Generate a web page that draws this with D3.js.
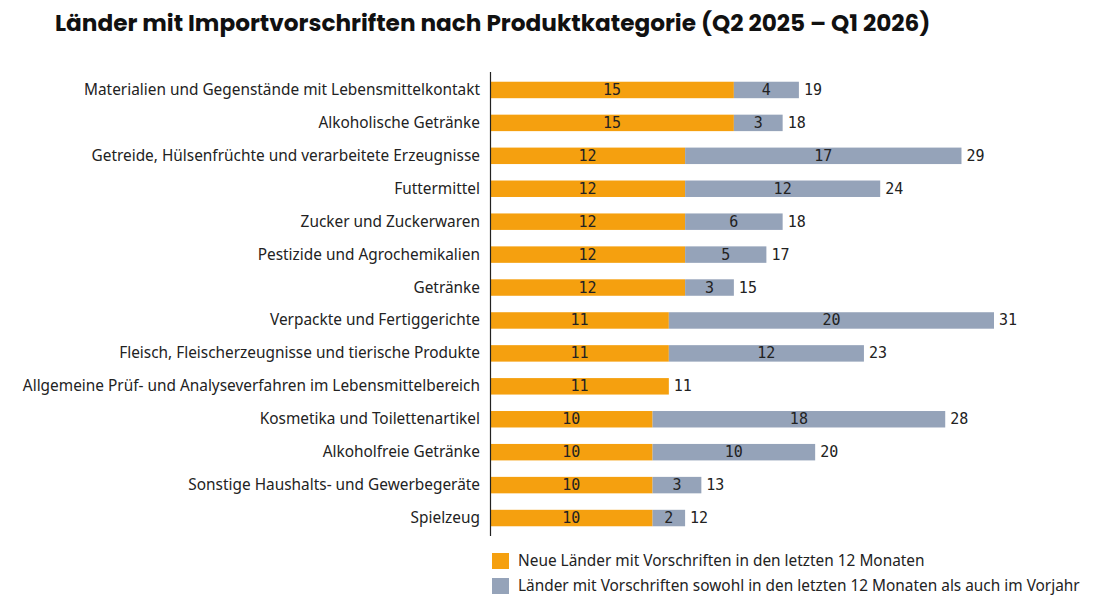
<!DOCTYPE html>
<html><head><meta charset="utf-8">
<script src="https://cdn.jsdelivr.net/npm/d3@7"></script>
<style>body{margin:0;background:#fff}</style></head>
<body><svg id="c" width="1101" height="605"></svg>
<script>
const categories=["Materialien und Gegenstände mit Lebensmittelkontakt","Alkoholische Getränke","Getreide, Hülsenfrüchte und verarbeitete Erzeugnisse","Futtermittel","Zucker und Zuckerwaren","Pestizide und Agrochemikalien","Getränke","Verpackte und Fertiggerichte","Fleisch, Fleischerzeugnisse und tierische Produkte","Allgemeine Prüf- und Analyseverfahren im Lebensmittelbereich","Kosmetika und Toilettenartikel","Alkoholfreie Getränke","Sonstige Haushalts- und Gewerbegeräte","Spielzeug"];
const neu=[15,15,12,12,12,12,12,11,11,11,10,10,10,10];
const beide=[4,3,17,12,6,5,3,20,12,0,18,10,3,2];
const legendLabels=["Neue Länder mit Vorschriften in den letzten 12 Monaten","Länder mit Vorschriften sowohl in den letzten 12 Monaten als auch im Vorjahr"];
const colors=["#F5A00F","#95A3B9"];
const svg=d3.select("#c");
svg.append("text").attr("x",55).attr("y",31).attr("font-family","Poppins, 'Open Sans', sans-serif").attr("font-weight",700).attr("font-size",23.2).attr("fill","#111").text("Länder mit Importvorschriften nach Produktkategorie (Q2 2025 – Q1 2026)");
const x=d3.scaleLinear().domain([0,31]).range([490,994]);
const y=d3.scaleBand().domain(categories).range([73.5,534.5]).paddingInner(0.5).paddingOuter(0.25);
const g=svg.append("g");
const mono={"font-family":"DejaVu Sans Mono","font-size":15,"fill":"#222"};
function m(t){for(const k in mono)t.attr(k,mono[k]);return t;}
categories.forEach((c,i)=>{
  const yy=y(c),h=y.bandwidth(),cy=yy+h/2;
  g.append("rect").attr("x",x(0)).attr("y",yy).attr("width",x(neu[i])-x(0)).attr("height",h).attr("fill",colors[0]);
  if(beide[i]>0){
    g.append("rect").attr("x",x(neu[i])).attr("y",yy).attr("width",x(neu[i]+beide[i])-x(neu[i])).attr("height",h).attr("fill",colors[1]);
    m(g.append("text").attr("x",(x(neu[i])+x(neu[i]+beide[i]))/2).attr("y",cy+5).attr("text-anchor","middle")).text(beide[i]);
  }
  m(g.append("text").attr("x",(x(0)+x(neu[i]))/2).attr("y",cy+5).attr("text-anchor","middle")).text(neu[i]);
  m(g.append("text").attr("x",x(neu[i]+beide[i])+5).attr("y",cy+5)).text(neu[i]+beide[i]);
  g.append("text").attr("x",480).attr("y",cy+5).attr("text-anchor","end").attr("font-family","'Noto Sans', sans-serif").attr("font-size",15.4).attr("fill","#222").text(c);
});
svg.append("line").attr("x1",490.5).attr("x2",490.5).attr("y1",72).attr("y2",536).attr("stroke","#222").attr("stroke-width",1.2);
legendLabels.forEach((l,i)=>{
  const ly=553+i*25;
  svg.append("rect").attr("x",492).attr("y",ly).attr("width",17).attr("height",16).attr("fill",colors[i]);
  svg.append("text").attr("x",518).attr("y",ly+13).attr("font-family","'Noto Sans', sans-serif").attr("font-size",15.4).attr("fill","#222").text(l);
});
</script></body></html>
